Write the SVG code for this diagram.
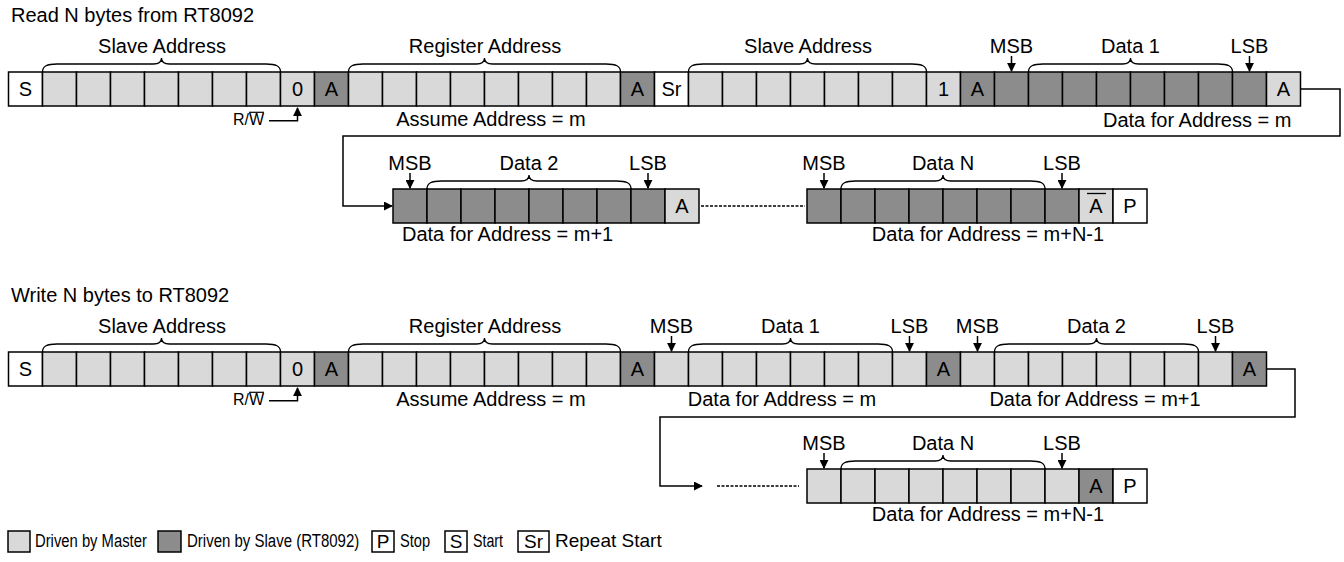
<svg xmlns="http://www.w3.org/2000/svg" width="1344" height="562" viewBox="0 0 1344 562">
<style>
text{font-family:"Liberation Sans",Arial,sans-serif;font-size:20px;fill:#000}
.c{text-anchor:middle}
.m{fill:#d9d9d9;stroke:#000;stroke-width:1.5}
.s{fill:#8c8c8c;stroke:#000;stroke-width:1.5}
.w{fill:#fff;stroke:#000;stroke-width:1.5}
.br{fill:none;stroke:#000;stroke-width:1.3}
.ln{fill:none;stroke:#000;stroke-width:1.5}
.ar{fill:none;stroke:#000;stroke-width:1.5;marker-end:url(#ah)}
.dot{fill:none;stroke:#000;stroke-width:1.6;stroke-dasharray:3 1.5}
.lg{font-size:19px}
.rw{font-size:16px}
</style>
<defs>
<marker id="ah" viewBox="0 0 10 10" refX="9" refY="5" markerWidth="9" markerHeight="9" markerUnits="userSpaceOnUse" orient="auto"><path d="M0,0 L10,5 L0,10 z" fill="#000"/></marker>
</defs>
<rect width="1344" height="562" fill="#fff"/>

<text x="11" y="22">Read N bytes from RT8092</text>
<text x="11" y="302">Write N bytes to RT8092</text>

<!-- ROW 1 -->
<g id="r1-start"><rect class="w" x="8.5" y="72" width="34" height="34"/><text class="c" x="25.5" y="96">S</text></g>
<g id="r1-slave-addr">
<rect class="m" x="42.5" y="72" width="34" height="34"/><rect class="m" x="76.5" y="72" width="34" height="34"/><rect class="m" x="110.5" y="72" width="34" height="34"/><rect class="m" x="144.5" y="72" width="34" height="34"/><rect class="m" x="178.5" y="72" width="34" height="34"/><rect class="m" x="212.5" y="72" width="34" height="34"/><rect class="m" x="246.5" y="72" width="34" height="34"/>
<path class="br" d="M42.5,72 C42.5,66 47,64 57,64 L153.5,64 C158.5,64 161.5,62 161.5,58 C161.5,62 164.5,64 169.5,64 L266,64 C276,64 280.5,66 280.5,72"/>
<text class="c" x="162" y="53">Slave Address</text>
</g>
<g id="r1-rw"><rect class="m" x="280.5" y="72" width="34" height="34"/><text class="c" x="297.5" y="96">0</text>
<text class="rw" x="233" y="125">R/W</text><line class="ln" x1="249" y1="112.3" x2="264" y2="112.3" style="stroke-width:1.2"/>
<polyline class="ar" points="269,120.7 297.5,120.7 297.5,108"/></g>
<g id="r1-ack1"><rect class="s" x="314.5" y="72" width="34" height="34"/><text class="c" x="331.5" y="96">A</text></g>
<g id="r1-reg-addr">
<rect class="m" x="348.5" y="72" width="34" height="34"/><rect class="m" x="382.5" y="72" width="34" height="34"/><rect class="m" x="416.5" y="72" width="34" height="34"/><rect class="m" x="450.5" y="72" width="34" height="34"/><rect class="m" x="484.5" y="72" width="34" height="34"/><rect class="m" x="518.5" y="72" width="34" height="34"/><rect class="m" x="552.5" y="72" width="34" height="34"/><rect class="m" x="586.5" y="72" width="34" height="34"/>
<path class="br" d="M348.5,72 C348.5,66 353,64 363,64 L476.5,64 C481.5,64 484.5,62 484.5,58 C484.5,62 487.5,64 492.5,64 L606,64 C616,64 620.5,66 620.5,72"/>
<text class="c" x="485" y="53">Register Address</text>
<text class="c" x="491" y="126">Assume Address = m</text>
</g>
<g id="r1-ack2"><rect class="s" x="620.5" y="72" width="34" height="34"/><text class="c" x="637.5" y="96">A</text></g>
<g id="r1-sr"><rect class="w" x="654.5" y="72" width="34" height="34"/><text class="c" x="671.5" y="96">Sr</text></g>
<g id="r1-slave-addr2">
<rect class="m" x="688.5" y="72" width="34" height="34"/><rect class="m" x="722.5" y="72" width="34" height="34"/><rect class="m" x="756.5" y="72" width="34" height="34"/><rect class="m" x="790.5" y="72" width="34" height="34"/><rect class="m" x="824.5" y="72" width="34" height="34"/><rect class="m" x="858.5" y="72" width="34" height="34"/><rect class="m" x="892.5" y="72" width="34" height="34"/>
<path class="br" d="M688.5,72 C688.5,66 693,64 703,64 L799.5,64 C804.5,64 807.5,62 807.5,58 C807.5,62 810.5,64 815.5,64 L912,64 C922,64 926.5,66 926.5,72"/>
<text class="c" x="808" y="53">Slave Address</text>
</g>
<g id="r1-r"><rect class="m" x="926.5" y="72" width="34" height="34"/><text class="c" x="943.5" y="96">1</text></g>
<g id="r1-ack3"><rect class="s" x="960.5" y="72" width="34" height="34"/><text class="c" x="977.5" y="96">A</text></g>
<g id="r1-data1">
<rect class="s" x="994.5" y="72" width="34" height="34"/><rect class="s" x="1028.5" y="72" width="34" height="34"/><rect class="s" x="1062.5" y="72" width="34" height="34"/><rect class="s" x="1096.5" y="72" width="34" height="34"/><rect class="s" x="1130.5" y="72" width="34" height="34"/><rect class="s" x="1164.5" y="72" width="34" height="34"/><rect class="s" x="1198.5" y="72" width="34" height="34"/><rect class="s" x="1232.5" y="72" width="34" height="34"/>
<path class="br" d="M1028.5,72 C1028.5,66 1033,64 1043,64 L1122.5,64 C1127.5,64 1130.5,62 1130.5,58 C1130.5,62 1133.5,64 1138.5,64 L1218,64 C1228,64 1232.5,66 1232.5,72"/>
<text class="c" x="1130.5" y="53">Data 1</text>
<text class="c" x="1011.5" y="53">MSB</text><line class="ar" x1="1011.5" y1="56" x2="1011.5" y2="71"/>
<text class="c" x="1249.5" y="53">LSB</text><line class="ar" x1="1249.5" y1="56" x2="1249.5" y2="71"/>
<text x="1103" y="127">Data for Address = m</text>
</g>
<g id="r1-ack4"><rect class="m" x="1266.5" y="72" width="34" height="34"/><text class="c" x="1283.5" y="96">A</text></g>

<!-- ROW 2 -->
<g id="r2-data2">
<rect class="s" x="393" y="189" width="34" height="34"/><rect class="s" x="427" y="189" width="34" height="34"/><rect class="s" x="461" y="189" width="34" height="34"/><rect class="s" x="495" y="189" width="34" height="34"/><rect class="s" x="529" y="189" width="34" height="34"/><rect class="s" x="563" y="189" width="34" height="34"/><rect class="s" x="597" y="189" width="34" height="34"/><rect class="s" x="631" y="189" width="34" height="34"/>
<path class="br" d="M427,189 C427,183 431.5,181 441.5,181 L521,181 C526,181 529,179 529,175 C529,179 532,181 537,181 L616.5,181 C626.5,181 631,183 631,189"/>
<text class="c" x="529" y="170">Data 2</text>
<text class="c" x="410" y="170">MSB</text><line class="ar" x1="410" y1="173" x2="410" y2="188"/>
<text class="c" x="648" y="170">LSB</text><line class="ar" x1="648" y1="173" x2="648" y2="188"/>
<text x="402" y="241">Data for Address = m+1</text>
</g>
<g id="r2-ack"><rect class="m" x="665" y="189" width="34" height="34"/><text class="c" x="682" y="213">A</text></g>
<g id="r2-dataN">
<rect class="s" x="807" y="189" width="34" height="34"/><rect class="s" x="841" y="189" width="34" height="34"/><rect class="s" x="875" y="189" width="34" height="34"/><rect class="s" x="909" y="189" width="34" height="34"/><rect class="s" x="943" y="189" width="34" height="34"/><rect class="s" x="977" y="189" width="34" height="34"/><rect class="s" x="1011" y="189" width="34" height="34"/><rect class="s" x="1045" y="189" width="34" height="34"/>
<path class="br" d="M841,189 C841,183 845.5,181 855.5,181 L935,181 C940,181 943,179 943,175 C943,179 946,181 951,181 L1030.5,181 C1040.5,181 1045,183 1045,189"/>
<text class="c" x="943" y="170">Data N</text>
<text class="c" x="824" y="170">MSB</text><line class="ar" x1="824" y1="173" x2="824" y2="188"/>
<text class="c" x="1062" y="170">LSB</text><line class="ar" x1="1062" y1="173" x2="1062" y2="188"/>
<text class="c" x="988" y="241">Data for Address = m+N-1</text>
</g>
<g id="r2-nack"><rect class="m" x="1079" y="189" width="34" height="34"/><text class="c" x="1096" y="213">A</text><line class="ln" x1="1087" y1="193.5" x2="1106" y2="193.5" style="stroke-width:1.3"/></g>
<g id="r2-stop"><rect class="w" x="1113" y="189" width="34" height="34"/><text class="c" x="1130" y="213">P</text></g>

<!-- ROW 3 -->
<g id="r3-start"><rect class="w" x="8.5" y="352" width="34" height="34"/><text class="c" x="25.5" y="376">S</text></g>
<g id="r3-slave-addr">
<rect class="m" x="42.5" y="352" width="34" height="34"/><rect class="m" x="76.5" y="352" width="34" height="34"/><rect class="m" x="110.5" y="352" width="34" height="34"/><rect class="m" x="144.5" y="352" width="34" height="34"/><rect class="m" x="178.5" y="352" width="34" height="34"/><rect class="m" x="212.5" y="352" width="34" height="34"/><rect class="m" x="246.5" y="352" width="34" height="34"/>
<path class="br" d="M42.5,352 C42.5,346 47,344 57,344 L153.5,344 C158.5,344 161.5,342 161.5,338 C161.5,342 164.5,344 169.5,344 L266,344 C276,344 280.5,346 280.5,352"/>
<text class="c" x="162" y="333">Slave Address</text>
</g>
<g id="r3-rw"><rect class="m" x="280.5" y="352" width="34" height="34"/><text class="c" x="297.5" y="376">0</text>
<text class="rw" x="233" y="405">R/W</text><line class="ln" x1="249" y1="392.3" x2="264" y2="392.3" style="stroke-width:1.2"/>
<polyline class="ar" points="269,400.7 297.5,400.7 297.5,388"/></g>
<g id="r3-ack1"><rect class="s" x="314.5" y="352" width="34" height="34"/><text class="c" x="331.5" y="376">A</text></g>
<g id="r3-reg-addr">
<rect class="m" x="348.5" y="352" width="34" height="34"/><rect class="m" x="382.5" y="352" width="34" height="34"/><rect class="m" x="416.5" y="352" width="34" height="34"/><rect class="m" x="450.5" y="352" width="34" height="34"/><rect class="m" x="484.5" y="352" width="34" height="34"/><rect class="m" x="518.5" y="352" width="34" height="34"/><rect class="m" x="552.5" y="352" width="34" height="34"/><rect class="m" x="586.5" y="352" width="34" height="34"/>
<path class="br" d="M348.5,352 C348.5,346 353,344 363,344 L476.5,344 C481.5,344 484.5,342 484.5,338 C484.5,342 487.5,344 492.5,344 L606,344 C616,344 620.5,346 620.5,352"/>
<text class="c" x="485" y="333">Register Address</text>
<text class="c" x="491" y="406">Assume Address = m</text>
</g>
<g id="r3-ack2"><rect class="s" x="620.5" y="352" width="34" height="34"/><text class="c" x="637.5" y="376">A</text></g>
<g id="r3-data1">
<rect class="m" x="654.5" y="352" width="34" height="34"/><rect class="m" x="688.5" y="352" width="34" height="34"/><rect class="m" x="722.5" y="352" width="34" height="34"/><rect class="m" x="756.5" y="352" width="34" height="34"/><rect class="m" x="790.5" y="352" width="34" height="34"/><rect class="m" x="824.5" y="352" width="34" height="34"/><rect class="m" x="858.5" y="352" width="34" height="34"/><rect class="m" x="892.5" y="352" width="34" height="34"/>
<path class="br" d="M688.5,352 C688.5,346 693,344 703,344 L782.5,344 C787.5,344 790.5,342 790.5,338 C790.5,342 793.5,344 798.5,344 L878,344 C888,344 892.5,346 892.5,352"/>
<text class="c" x="790.5" y="333">Data 1</text>
<text class="c" x="671.5" y="333">MSB</text><line class="ar" x1="671.5" y1="336" x2="671.5" y2="351"/>
<text class="c" x="909.5" y="333">LSB</text><line class="ar" x1="909.5" y1="336" x2="909.5" y2="351"/>
<text class="c" x="782" y="406">Data for Address = m</text>
</g>
<g id="r3-ack3"><rect class="s" x="926.5" y="352" width="34" height="34"/><text class="c" x="943.5" y="376">A</text></g>
<g id="r3-data2">
<rect class="m" x="960.5" y="352" width="34" height="34"/><rect class="m" x="994.5" y="352" width="34" height="34"/><rect class="m" x="1028.5" y="352" width="34" height="34"/><rect class="m" x="1062.5" y="352" width="34" height="34"/><rect class="m" x="1096.5" y="352" width="34" height="34"/><rect class="m" x="1130.5" y="352" width="34" height="34"/><rect class="m" x="1164.5" y="352" width="34" height="34"/><rect class="m" x="1198.5" y="352" width="34" height="34"/>
<path class="br" d="M994.5,352 C994.5,346 999,344 1009,344 L1088.5,344 C1093.5,344 1096.5,342 1096.5,338 C1096.5,342 1099.5,344 1104.5,344 L1184,344 C1194,344 1198.5,346 1198.5,352"/>
<text class="c" x="1096.5" y="333">Data 2</text>
<text class="c" x="977.5" y="333">MSB</text><line class="ar" x1="977.5" y1="336" x2="977.5" y2="351"/>
<text class="c" x="1215.5" y="333">LSB</text><line class="ar" x1="1215.5" y1="336" x2="1215.5" y2="351"/>
<text class="c" x="1095" y="406">Data for Address = m+1</text>
</g>
<g id="r3-ack4"><rect class="s" x="1232.5" y="352" width="34" height="34"/><text class="c" x="1249.5" y="376">A</text></g>

<!-- ROW 4 -->
<g id="r4-dataN">
<rect class="m" x="807" y="469" width="34" height="34"/><rect class="m" x="841" y="469" width="34" height="34"/><rect class="m" x="875" y="469" width="34" height="34"/><rect class="m" x="909" y="469" width="34" height="34"/><rect class="m" x="943" y="469" width="34" height="34"/><rect class="m" x="977" y="469" width="34" height="34"/><rect class="m" x="1011" y="469" width="34" height="34"/><rect class="m" x="1045" y="469" width="34" height="34"/>
<path class="br" d="M841,469 C841,463 845.5,461 855.5,461 L935,461 C940,461 943,459 943,455 C943,459 946,461 951,461 L1030.5,461 C1040.5,461 1045,463 1045,469"/>
<text class="c" x="943" y="450">Data N</text>
<text class="c" x="824" y="450">MSB</text><line class="ar" x1="824" y1="453" x2="824" y2="468"/>
<text class="c" x="1062" y="450">LSB</text><line class="ar" x1="1062" y1="453" x2="1062" y2="468"/>
<text class="c" x="988" y="521">Data for Address = m+N-1</text>
</g>
<g id="r4-ack"><rect class="s" x="1079" y="469" width="34" height="34"/><text class="c" x="1096" y="493">A</text></g>
<g id="r4-stop"><rect class="w" x="1113" y="469" width="34" height="34"/><text class="c" x="1130" y="493">P</text></g>

<!-- CONNECTORS -->
<g id="connectors">
<polyline class="ar" points="1300.5,89 1340,89 1340,136 343,136 343,206 392,206"/>
<line class="dot" x1="701" y1="206" x2="805" y2="206"/>
<polyline class="ar" points="1266.5,369 1295,369 1295,417 660,417 660,486 702,486"/>
<line class="dot" x1="717" y1="486" x2="799" y2="486"/>
</g>

<!-- LEGEND -->
<g id="legend">
<rect class="m" x="8" y="531" width="22" height="21"/><text class="lg" transform="translate(35,547) scale(0.78,1)">Driven by Master</text>
<rect class="s" x="158" y="531" width="23" height="21"/><text class="lg" transform="translate(187,547) scale(0.79,1)">Driven by Slave (RT8092)</text>
<rect class="w" x="372" y="531" width="22" height="21"/><text class="lg c" x="383" y="548">P</text><text class="lg" transform="translate(400,547) scale(0.77,1)">Stop</text>
<rect class="w" x="445" y="531" width="22" height="21"/><text class="lg c" x="456" y="548">S</text><text class="lg" transform="translate(473,547) scale(0.75,1)">Start</text>
<rect class="w" x="518" y="531" width="31" height="21"/><text class="lg c" x="533.5" y="548">Sr</text><text class="lg" x="555" y="547">Repeat Start</text>
</g>
</svg>
